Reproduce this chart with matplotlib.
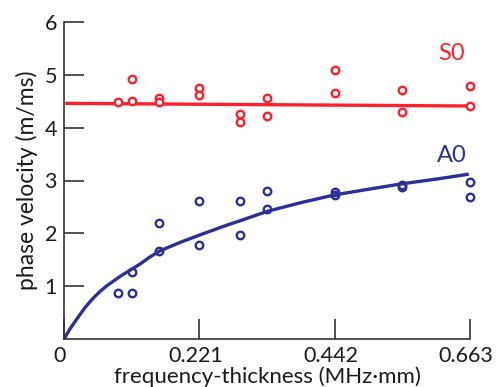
import matplotlib
matplotlib.use("Agg")
import matplotlib.pyplot as plt
import matplotlib.transforms as mtransforms

plt.rcParams['font.family'] = ['Lato', 'DejaVu Sans']

# measured points (frequency-thickness in MHz*mm, phase velocity in m/ms)
s0_x = [0.0884, 0.1105, 0.1105, 0.1547, 0.1547, 0.221, 0.221, 0.2873, 0.2873,
        0.3315, 0.3315, 0.442, 0.442, 0.5525, 0.5525, 0.663, 0.663]
s0_y = [4.49, 4.92, 4.51, 4.57, 4.49, 4.76, 4.61, 4.26, 4.11,
        4.57, 4.23, 5.09, 4.66, 4.71, 4.30, 4.78, 4.41]

a0_x = [0.0884, 0.1105, 0.1105, 0.1547, 0.1547, 0.221, 0.221, 0.2873, 0.2873,
        0.3315, 0.3315, 0.442, 0.442, 0.5525, 0.5525, 0.663, 0.663]
a0_y = [0.88, 1.26, 0.88, 2.20, 1.67, 2.61, 1.78, 2.61, 1.97,
        2.80, 2.46, 2.78, 2.73, 2.88, 2.91, 2.98, 2.69]

# theoretical dispersion curves
s0_curve_x = [0.002, 0.663]
s0_curve_y = [4.46, 4.41]

a0_curve_x = [0.0, 0.005, 0.0098, 0.018, 0.026, 0.034, 0.042, 0.050, 0.059,
              0.069, 0.080, 0.091, 0.102, 0.123, 0.140, 0.157, 0.190, 0.222,
              0.260, 0.298, 0.333, 0.390, 0.443, 0.500, 0.553, 0.610, 0.661]
a0_curve_y = [0.0, 0.10, 0.19, 0.33, 0.46, 0.59, 0.70, 0.80, 0.90,
              1.00, 1.09, 1.18, 1.26, 1.41, 1.55, 1.67, 1.83, 1.97,
              2.13, 2.28, 2.42, 2.59, 2.73, 2.84, 2.94, 3.03, 3.12]

x_ticks = [0, 0.221, 0.442, 0.663]
x_labels = ['0', '0.221', '0.442', '0.663']
y_ticks = [1, 2, 3, 4, 5, 6]

red = '#ff1f2d'
blue = '#2b2f96'
dark = '#1a1a1a'

fig = plt.figure(figsize=(4.96, 3.87), dpi=100)
ax = fig.add_axes([64 / 496, 48 / 387, 406 / 496, 317 / 387])

ax.plot(s0_curve_x, s0_curve_y, color=red, lw=2.4, solid_capstyle='butt')
ax.plot(a0_curve_x, a0_curve_y, color=blue, lw=2.4, solid_capstyle='butt',
        solid_joinstyle='round')

ax.plot(s0_x, s0_y, 'o', mfc='white', mec=red, ms=5.4, mew=1.7, clip_on=False)
ax.plot(a0_x, a0_y, 'o', mfc='none', mec=blue, ms=5.4, mew=1.7, clip_on=False)

ax.text(0.633, 5.41, 'S0', color=red, fontsize=17, ha='center', va='center')
ax.text(0.633, 3.48, 'A0', color=blue, fontsize=17, ha='center', va='center')

ax.set_xlim(0, 0.663)
ax.set_ylim(0, 6)
ax.set_xticks(x_ticks)
ax.set_xticklabels(x_labels)
ax.set_yticks(y_ticks)

for side in ['top', 'right']:
    ax.spines[side].set_visible(False)
for side in ['left', 'bottom']:
    ax.spines[side].set_color('#333333')
    ax.spines[side].set_linewidth(1.2)

ax.tick_params(direction='in', length=14.5, width=1.2, color='#333333',
               labelsize=15.5, labelcolor=dark, pad=5)

# nudge x tick labels a little left, as in the original
shift = mtransforms.ScaledTranslation(-4 / 100, 0, fig.dpi_scale_trans)
for lab in ax.get_xticklabels():
    lab.set_transform(lab.get_transform() + shift)

ax.set_xlabel('frequency-thickness (MHz·mm)', fontsize=16, color=dark, labelpad=0)
ax.set_ylabel('phase velocity (m/ms)', fontsize=16.5, color=dark, labelpad=5)

fig.savefig('out.png', dpi=100)
